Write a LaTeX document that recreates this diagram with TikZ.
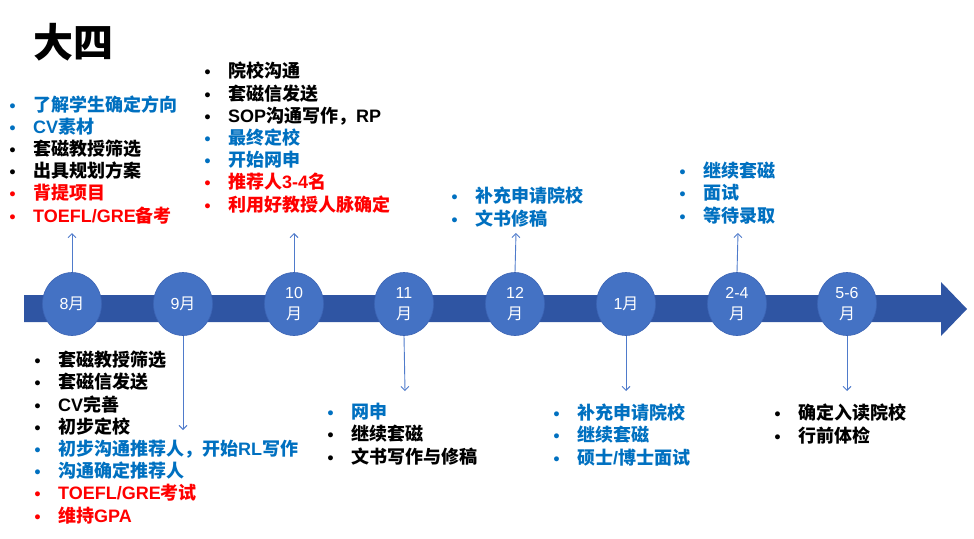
\documentclass[tikz,border=0pt]{standalone}
\usepackage{fontspec}
\newfontfamily\cjk{Noto Sans CJK SC}
\newfontfamily\lat{Liberation Sans}
\newfontfamily\sym{DejaVu Sans}
\usetikzlibrary{shapes.geometric, arrows.meta}

\definecolor{bandblue}{HTML}{2F55A3}
\definecolor{circleblue}{HTML}{4472C4}
\definecolor{circleedge}{HTML}{3C64B4}
\definecolor{linkblue}{HTML}{4F7BCB}
\definecolor{noteblue}{HTML}{0070C0}
\definecolor{notered}{HTML}{FF0000}

% latin runs and bullet items
\newcommand\en[1]{{\lat #1}}
\newcommand\itm[2]{{\color{#1}\makebox[25pt][l]{\sym\fontsize{14}{14}\selectfont •}#2}}

\begin{document}
\begin{tikzpicture}[
		x=1pt, y=-1pt,
		% month bubbles on the band
		month/.style={
			ellipse, fill=circleblue, draw=circleedge, line width=0.6pt,
			minimum width=59pt, minimum height=63pt, inner sep=0pt,
			text=white, align=center, font={\cjk\fontsize{16}{21}\selectfont}
		},
		% bullet lists, placed by the baseline of their last line
		notes/.style={anchor=base west, inner sep=0pt, align=left,
			font={\cjk\bfseries\fontsize{18}{22.2}\selectfont}},
		% thin connectors
		link/.style={draw=linkblue, line width=0.9pt, -{Straight Barb[length=4pt, width=8pt]}}
		]
		\useasboundingbox (0,0) rectangle (974,538);
		
		% --- 1. Title ---
		\node[font={\cjk\bfseries\fontsize{40}{40}\selectfont}] (title) at (73,42) {大四};
		
		% --- 2. Timeline band ---
		\fill[bandblue] (24,295) -- (941,295) -- (941,282) -- (967,309)
			-- (941,336) -- (941,322) -- (24,322) -- cycle;
		
		% --- 3. Months ---
		\node[month] (m8) at (72,304) {\en{8}月};
		\node[month] (m9) at (183,304) {\en{9}月};
		\node[month] (m10) at (294,304) {\en{10}\\月};
		\node[month] (m11) at (404,304) {\en{11}\\月};
		\node[month] (m12) at (515,304) {\en{12}\\月};
		\node[month] (m1) at (626,304) {\en{1}月};
		\node[month] (m24) at (737,304) {\en{2-4}\\月};
		\node[month] (m56) at (847,304) {\en{5-6}\\月};
		
		% --- 4. Notes above the band ---
		\node[notes] (n8) at (8,222) {
			\itm{noteblue}{了解学生确定方向}\\
			\itm{noteblue}{\en{CV}素材}\\
			\itm{black}{套磁教授筛选}\\
			\itm{black}{出具规划方案}\\
			\itm{notered}{背提项目}\\
			\itm{notered}{\en{TOEFL/GRE}备考}
		};
		\node[notes] (n10) at (203,211) {
			\itm{black}{院校沟通}\\
			\itm{black}{套磁信发送}\\
			\itm{black}{\en{SOP}沟通写作，\en{RP}}\\
			\itm{noteblue}{最终定校}\\
			\itm{noteblue}{开始网申}\\
			\itm{notered}{推荐人\en{3-4}名}\\
			\itm{notered}{利用好教授人脉确定}
		};
		\node[notes] (n12) at (450,225) {
			\itm{noteblue}{补充申请院校}\\
			\itm{noteblue}{文书修稿}
		};
		\node[notes] (n24) at (678,222) {
			\itm{noteblue}{继续套磁}\\
			\itm{noteblue}{面试}\\
			\itm{noteblue}{等待录取}
		};
		
		% --- 5. Notes below the band ---
		\node[notes] (n9) at (33,522) {
			\itm{black}{套磁教授筛选}\\
			\itm{black}{套磁信发送}\\
			\itm{black}{\en{CV}完善}\\
			\itm{black}{初步定校}\\
			\itm{noteblue}{初步沟通推荐人，开始\en{RL}写作}\\
			\itm{noteblue}{沟通确定推荐人}\\
			\itm{notered}{\en{TOEFL/GRE}考试}\\
			\itm{notered}{维持\en{GPA}}
		};
		\node[notes] (n11) at (326,463) {
			\itm{noteblue}{网申}\\
			\itm{black}{继续套磁}\\
			\itm{black}{文书写作与修稿}
		};
		\node[notes] (n1) at (552,464) {
			\itm{noteblue}{补充申请院校}\\
			\itm{noteblue}{继续套磁}\\
			\itm{noteblue}{硕士\en{/}博士面试}
		};
		\node[notes] (n56) at (773,442) {
			\itm{black}{确定入读院校}\\
			\itm{black}{行前体检}
		};
		
		% --- 6. Connectors ---
		\coordinate (u8) at (72,233);
		\coordinate (u10) at (294,233);
		\coordinate (u12) at (516,233);
		\coordinate (u24) at (738,233);
		\coordinate (d9) at (183,430);
		\coordinate (d11) at (405,391);
		\coordinate (d1) at (626,391);
		\coordinate (d56) at (847,391);
		\draw[link] (m8.north) -- (u8);
		\draw[link] (m10.north) -- (u10);
		\draw[link] (m12.north) -- (u12);
		\draw[link] (m24.north) -- (u24);
		\draw[link] (m9.south) -- (d9);
		\draw[link] (m11.south) -- (d11);
		\draw[link] (m1.south) -- (d1);
		\draw[link] (m56.south) -- (d56);
		
	\end{tikzpicture}
\end{document}
